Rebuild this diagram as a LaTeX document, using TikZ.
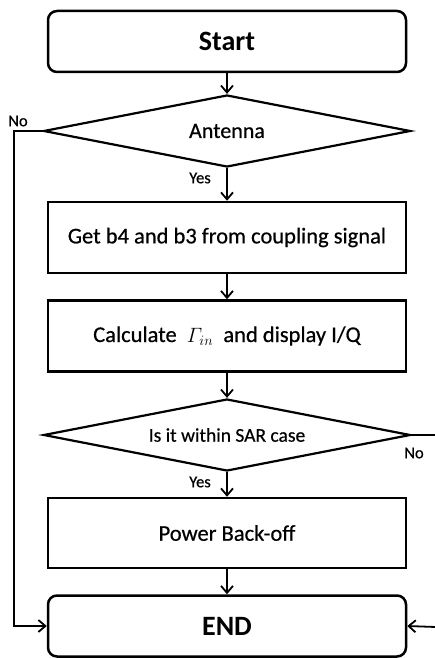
\documentclass[tikz,border=0pt]{standalone}
\usepackage[no-math]{fontspec}
\setmainfont{Carlito}
\newfontfamily\semib{Carlito}[FakeBold=0.5]
\usetikzlibrary{shapes.geometric,arrows.meta}
\begin{document}
\begin{tikzpicture}[x=1pt,y=-1pt,
  term/.style={draw,line width=2.5pt,rounded corners=9pt,minimum width=358pt,minimum height=61pt,inner sep=0pt,font=\bfseries\fontsize{28}{32}\selectfont},
  proc/.style={draw,line width=2.5pt,minimum width=358pt,minimum height=71pt,inner sep=0pt,font=\semib\fontsize{22.5}{26}\selectfont},
  dec/.style={draw,line width=2.2pt,diamond,aspect=5.1,minimum width=367pt,minimum height=72pt,inner sep=0pt},
  conn/.style={line width=1.8pt,-{Straight Barb[length=7pt,width=12pt,line width=1.8pt]}},
  lbl/.style={font=\semib\fontsize{16.5}{19}\selectfont,inner sep=0pt}]
\useasboundingbox (0,0) rectangle (435,658);
\node[term] (start) at (227,41.5) {Start};
\node[dec,font=\semib\fontsize{22}{26}\selectfont] (ant) at (227,131) {Antenna};
\node[proc] (get) at (227,237.5) {Get b4 and b3 from coupling signal};
\node[proc] (calc) at (227,336) {Calculate \ $\mathnormal{\Gamma}_{in}$ \ and display I/Q};
\node[dec,font=\semib\fontsize{19.5}{23}\selectfont] (sar) at (227,435) {\raisebox{-4pt}{Is it within SAR case}};
\node[proc,minimum height=70pt] (pow) at (227,533) {Power Back-off};
\node[term] (end) at (227,626) {END};
\coordinate (lc) at (14,131);
\coordinate (rc) at (436,435);
\coordinate (re) at (436,627);
\draw[conn] (start.south) -- (ant.north);
\draw[conn] (ant.south) -- (get.north);
\draw[conn] (get.south) -- (calc.north);
\draw[conn] (calc.south) -- (sar.north);
\draw[conn] (sar.south) -- (pow.north);
\draw[conn] (pow.south) -- (end.north);
\draw[conn] (ant.west) -- (lc) |- (end.west);
\draw[line width=1.8pt] (sar.east) -- (rc);
\draw[conn] (re) -- (end.east);
\node[lbl] (no1) at (18,121) {No};
\node[lbl] (yes1) at (200,178) {Yes};
\node[lbl] (no2) at (414,453) {No};
\node[lbl] (yes2) at (200,482) {Yes};
\end{tikzpicture}
\end{document}
